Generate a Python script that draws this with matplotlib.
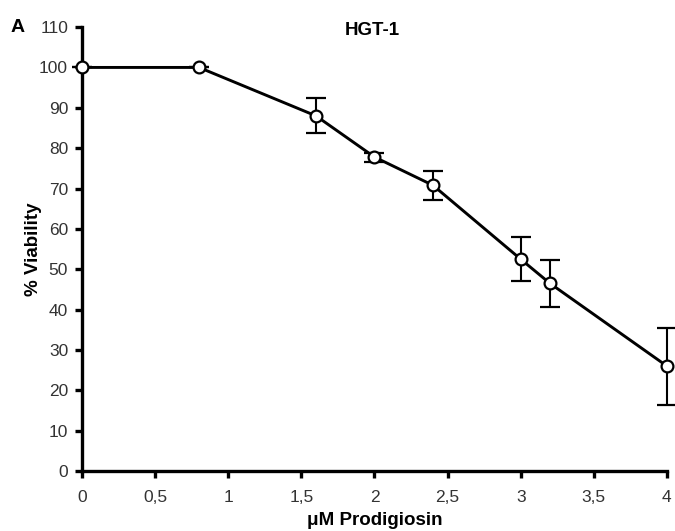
import matplotlib
matplotlib.use("Agg")
import matplotlib.pyplot as plt

conc = [0, 0.8, 1.6, 2.0, 2.4, 3.0, 3.2, 4.0]
viability = [100, 100, 88, 77.8, 70.8, 52.5, 46.5, 26]
err_low = [0, 0, 4.3, 1.2, 3.7, 5.3, 5.9, 9.6]
err_high = [0, 0, 4.4, 1.1, 3.5, 5.5, 5.8, 9.4]
xticks = [0, 0.5, 1, 1.5, 2, 2.5, 3, 3.5, 4]
xticklabels = ["0", "0,5", "1", "1,5", "2", "2,5", "3", "3,5", "4"]
yticks = list(range(0, 111, 10))

plt.rcParams['font.family'] = ['Liberation Sans', 'DejaVu Sans']

fig = plt.figure(figsize=(6.75, 5.31), dpi=100)
ax = fig.add_axes([0.1215, 0.113, 0.8665, 0.836])

ax.errorbar(conc, viability, yerr=[err_low, err_high], color='black',
            linewidth=2.1, elinewidth=1.5, capsize=7, capthick=1.5,
            marker='o', markersize=8.5, markerfacecolor='white',
            markeredgecolor='black', markeredgewidth=1.6, clip_on=False, zorder=3)

ax.set_xlim(0, 4)
ax.set_ylim(0, 110)
ax.set_xticks(xticks)
ax.set_xticklabels(xticklabels)
ax.set_yticks(yticks)

for s in ['top', 'right']:
    ax.spines[s].set_visible(False)
for s in ['left', 'bottom']:
    ax.spines[s].set_linewidth(2.4)

ax.tick_params(axis='both', direction='out', length=5, width=2.4,
               labelsize=12.5, colors='black', pad=5)
ax.tick_params(axis='x', pad=9)
for lbl in ax.get_xticklabels() + ax.get_yticklabels():
    lbl.set_color('#333333')

ax.set_xlabel("μM Prodigiosin", fontsize=13.5, fontweight='bold', labelpad=5)
ax.set_ylabel("% Viability", fontsize=13.5, fontweight='bold', labelpad=-2)

fig.text(0.552, 0.942, "HGT-1", ha='center', va='center', fontsize=13.5, fontweight='bold')
fig.text(0.026, 0.948, "A", ha='center', va='center', fontsize=14, fontweight='bold')

fig.savefig("out.png", dpi=100)
